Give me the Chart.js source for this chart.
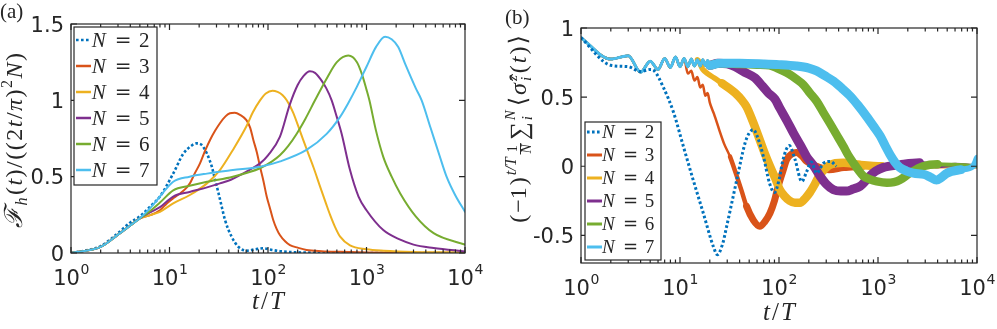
<!DOCTYPE html>
<html lang="en">
<head>
<meta charset="UTF-8" />
<title>Fisher information and staggered magnetization vs t/T</title>
<style>
  body { margin: 0; background: #fff; }
  #wrap { position: relative; width: 997px; height: 329px; overflow: hidden; }
  canvas { position: absolute; top: 0; }
  #panelA { left: 0; width: 498px; height: 329px; }
  #panelB { left: 498px; width: 499px; height: 329px; }
</style>
</head>
<body>
<div id="wrap">
  <canvas id="panelA" width="498" height="329"></canvas>
  <canvas id="panelB" width="499" height="329"></canvas>
</div>

<script src="https://cdn.jsdelivr.net/npm/chart.js"></script>
<script>
// ---- data ----
const sizesN = ['2', '3', '4', '5', '6', '7'];
const colors = ['#0072BD', '#D95319', '#EDB120', '#7E2F8E', '#77AC30', '#4DBEEE'];

// panel (a): F_h(t) / ((2t/pi)^2 N)
const tA2 = [1,1.5,2,3,4,5,6.5,8,10.9,13.8,16.5,18.9,21,23.9,26.9,29,31.5,34,36.6,42.7,50,60.6,75,89.6,110,132,200,400,1000,10000];
const yA2 = [0,0.02,0.045,0.13,0.2,0.24,0.31,0.37,0.52,0.65,0.70,0.718,0.71,0.653,0.565,0.48,0.39,0.30,0.216,0.107,0.041,0.015,0.025,0.031,0.02,0.012,0.004,0.002,0,0];
const tA3 = [1,2,3,4,5,6.5,8,9.4,11,12.8,14.5,16.1,18,20.4,23,25.8,29,32.5,37,41,46,52,60.4,66,71,77,83,90,97,105,113,122,132,150,167,200,246,350,540,1000,3000,10000];
const yA3 = [0,0.04,0.12,0.18,0.227,0.25,0.28,0.325,0.36,0.39,0.42,0.456,0.52,0.587,0.67,0.74,0.80,0.85,0.895,0.915,0.919,0.905,0.87,0.82,0.74,0.66,0.565,0.47,0.37,0.29,0.216,0.16,0.118,0.075,0.052,0.035,0.02,0.012,0.008,0.004,0.001,0];
const tA4 = [1,2,3,4,5,6.5,8,10.9,16.1,24,32.5,44,60.4,70,83,95,111,125,140,155,180,211,250,290,340,390,427,480,540,680,1000,1500,3000,10000];
const yA4 = [0,0.04,0.12,0.18,0.227,0.25,0.27,0.325,0.38,0.456,0.543,0.675,0.83,0.92,1.0,1.045,1.063,1.055,1.035,1.0,0.92,0.80,0.67,0.56,0.43,0.32,0.25,0.17,0.107,0.05,0.025,0.015,0.007,0.004];
const tA5 = [1,2,3,4,5,6.5,8,10.9,16,24,32.5,42,52,65,83,100,132,166,200,230,266,300,340,390,443,500,560,676,830,1000,1480,2200,3000,4800,10000];
const yA5 = [0,0.04,0.12,0.18,0.227,0.27,0.30,0.37,0.40,0.43,0.456,0.48,0.51,0.545,0.587,0.64,0.76,0.97,1.10,1.16,1.19,1.18,1.14,1.08,1.0,0.89,0.78,0.55,0.37,0.28,0.15,0.087,0.055,0.033,0.01];
const tA6 = [1,2,3,4,5,6.5,8,10.9,16,24,44,83,110,132,160,195,240,300,400,500,654,800,900,1000,1070,1250,1480,1800,2200,3160,4800,10000];
const yA6 = [0,0.04,0.12,0.18,0.227,0.28,0.33,0.41,0.44,0.467,0.50,0.555,0.60,0.64,0.70,0.78,0.88,1.0,1.15,1.25,1.293,1.25,1.17,1.07,1.0,0.80,0.63,0.50,0.39,0.24,0.13,0.055];
const tA7 = [1,2,3,4,5,6.5,8,10.9,16,24,44,83,133,246,394,537,650,800,1000,1250,1542,1800,2100,2500,3160,3630,4470,5500,6500,7940,10000];
const yA7 = [0,0.04,0.12,0.18,0.227,0.30,0.37,0.467,0.50,0.52,0.543,0.565,0.60,0.675,0.78,0.89,0.98,1.09,1.22,1.35,1.417,1.40,1.35,1.23,1.08,1.0,0.82,0.64,0.50,0.38,0.27];

// panel (b): staggered magnetization, shared zigzag at early integer times
const tZig = [1,2,3,4,5,6,7,8,9,10,11,12,13,14,15,16,17,18,19,20];
const yZig = [0.93,0.775,0.80,0.68,0.76,0.70,0.78,0.715,0.79,0.72,0.78,0.72,0.775,0.725,0.77,0.725,0.77,0.73,0.765,0.73];
const tB2 = [1,2,3,4,5,5.5,6.8,8.6,10.8,13.6,17.2,21.7,23.8,27,29.6,33,37.5,45.5,50,55,60,69.6,80,90,100,110,127,145,170,190,212,240,280,330,380];
const yB2 = [0.93,0.73,0.72,0.685,0.70,0.69,0.57,0.39,0.145,-0.10,-0.34,-0.58,-0.64,-0.56,-0.435,-0.28,-0.097,0.17,0.24,0.265,0.22,0.07,-0.12,-0.19,-0.10,0.05,0.15,0.05,-0.11,-0.04,0.03,-0.05,0.02,0.035,0.0];
const tB3 = [12,13,14,15,16,17,18,19,20,22,25,28,32,37,42,47,55,64,72,81,90,98,110,120,135,150,170,190,240,320,450,700,1000,2000,5000,10000];
const yB3 = [0.67,0.69,0.62,0.645,0.57,0.59,0.51,0.53,0.46,0.38,0.26,0.16,0.07,-0.06,-0.18,-0.29,-0.39,-0.435,-0.40,-0.34,-0.25,-0.145,-0.03,0.05,0.09,0.10,0.075,0.035,0.0,-0.025,-0.01,0.0,0.01,0.0,0.0,0.0];
const tB4 = [17,19,22,26.5,32,36,42,47,54,64,72,81,92,102,115,128,145,163,185,205,230,259,290,327,447,660,1100,2000,4000,10000];
const yB4 = [0.70,0.67,0.64,0.60,0.56,0.53,0.48,0.43,0.33,0.19,0.09,0.0,-0.09,-0.17,-0.22,-0.25,-0.265,-0.265,-0.23,-0.19,-0.13,-0.06,-0.02,0.01,0.025,0.01,0.0,0.01,0.0,0.0];
const tB5 = [24,30,36,45,57,68,78,91,102,120,140,165,190,225,259,300,355,420,480,560,660,740,830,950,1120,1660,2630,4000,6000,10000];
const yB5 = [0.745,0.74,0.72,0.68,0.64,0.58,0.53,0.485,0.42,0.33,0.24,0.15,0.07,0.0,-0.07,-0.13,-0.17,-0.18,-0.18,-0.165,-0.145,-0.11,-0.07,-0.035,-0.01,0.01,0.025,0.0,0.01,0.0];
const tB6 = [25,40,60,80,95,110,128,150,176,205,240,280,327,380,446,500,563,630,710,830,975,1230,1450,1660,2100,2850,4000,6000,10000];
const yB6 = [0.745,0.74,0.735,0.73,0.71,0.69,0.665,0.63,0.59,0.53,0.47,0.39,0.31,0.23,0.145,0.08,0.025,-0.025,-0.07,-0.095,-0.11,-0.12,-0.115,-0.10,-0.05,0.0,0.015,0.01,0.0];
const tB7 = [25,40,70,100,150,200,240,290,355,430,520,630,767,900,1050,1180,1320,1480,1660,1950,2280,2940,3400,3900,4400,4970,6900,9100,10000];
const yB7 = [0.745,0.745,0.74,0.735,0.725,0.71,0.69,0.655,0.615,0.565,0.51,0.44,0.36,0.29,0.22,0.15,0.085,0.03,-0.01,-0.035,-0.05,-0.06,-0.08,-0.10,-0.08,-0.05,-0.025,0.0,0.06];

// ---- styling helpers ----
const AXIS = '#262626';
const SERIF = '"Liberation Serif", "DejaVu Serif", serif';
const TICK_FONT = '21px "DejaVu Sans"';
const SUP_FONT = '14px "DejaVu Sans"';
const up = n => n + 'px ' + SERIF;
const it = n => 'italic ' + n + 'px ' + SERIF;

function pts(t, y) { return t.map((v, i) => ({ x: v, y: y[i] })); }
function withZig(n, t, y) { return [tZig.slice(0, n).concat(t), yZig.slice(0, n).concat(y)]; }

function line(t, y, i, extra) {
  return Object.assign({
    data: pts(t, y),
    borderColor: colors[i],
    borderWidth: 2,
    pointRadius: 0,
    fill: false,
    order: 6 - i,
    cubicInterpolationMode: 'monotone',
    borderJoinStyle: 'round',
    borderCapStyle: 'round'
  }, extra || {});
}

// line width by time window: the fast oscillation smears into a band
// steps = [[tUpTo, width], ...], last width used afterwards
function band(steps, last) {
  return {
    borderWidth: c => {
      const t = c.p0.parsed.x;
      for (const [lim, w] of steps) if (t < lim) return w;
      return last;
    }
  };
}

// small rich-text layout for math-like labels
function itemWidth(ctx, o) {
  ctx.font = o.f;
  if (o.frac) { const w1 = ctx.measureText(o.frac[0]).width; ctx.font = o.f2 || o.f; return Math.max(w1, ctx.measureText(o.frac[1]).width) + 2; }
  if (o.scr) return Math.max(ctx.measureText(o.scr[0]).width, ctx.measureText(o.scr[1]).width);
  return ctx.measureText(o.s).width;
}

function drawItems(ctx, items, cx, y, len, maxGap) {
  const ws = items.map(o => itemWidth(ctx, o));
  const nat = ws.reduce((a, b) => a + b, 0);
  let gap = len ? (len - nat) / (items.length - 1) : 0;
  gap = Math.max(0, Math.min(gap, maxGap || 3));
  let x = cx - (nat + gap * (items.length - 1)) / 2;
  ctx.textAlign = 'left';
  items.forEach((o, i) => {
    ctx.font = o.f;
    if (o.frac) {
      const w = ws[i];
      ctx.textAlign = 'center';
      ctx.fillText(o.frac[0], x + w / 2, y + o.nd);
      ctx.font = o.f2 || o.f;
      ctx.fillText(o.frac[1], x + w / 2, y + o.dd);
      ctx.textAlign = 'left';
      ctx.fillRect(x, y + o.bd, w, 1);
    } else if (o.scr) {
      ctx.fillText(o.scr[0], x, y + o.su);
      ctx.fillText(o.scr[1], x, y + o.sb);
    } else {
      ctx.fillText(o.s, x, y + (o.dy || 0));
    }
    x += ws[i] + gap + (o.after || 0);
  });
}

function drawLegend(ctx, L) {
  ctx.fillStyle = '#fff';
  ctx.fillRect(L.x, L.y, L.w, L.h);
  ctx.strokeStyle = AXIS;
  ctx.lineWidth = 1.2;
  ctx.setLineDash([]);
  ctx.strokeRect(L.x, L.y, L.w, L.h);
  sizesN.forEach((n, i) => {
    const yy = L.y + L.first + i * L.step;
    ctx.save();
    ctx.strokeStyle = colors[i];
    ctx.lineWidth = L.lw;
    ctx.lineCap = 'butt';
    ctx.setLineDash(i === 0 ? [2.6, 2.4] : []);
    ctx.beginPath();
    ctx.moveTo(L.x + 2, yy);
    ctx.lineTo(L.x + 17, yy);
    ctx.stroke();
    ctx.restore();
    ctx.fillStyle = AXIS;
    ctx.textAlign = 'left';
    const tx = L.x + L.tx, base = yy + L.size * 0.33;
    ctx.font = it(L.size);
    ctx.fillText('N', tx, base);
    ctx.font = (L.size - 1) + 'px "DejaVu Serif"';
    ctx.fillText('=', tx + L.size * 1.1, base);
    ctx.font = up(L.size);
    ctx.fillText(n, tx + L.size * 2.25, base);
  });
}

function makeFrame(cfg) {
  return {
    id: 'frame',
    afterDatasetsDraw(chart) {
      const ctx = chart.ctx, a = chart.chartArea, xs = chart.scales.x, ys = chart.scales.y;
      ctx.save();
      ctx.strokeStyle = AXIS;
      ctx.lineWidth = 1.2;
      ctx.beginPath();
      for (let k = 0; k < 4; k++) {
        for (let m = 2; m < 10; m++) {
          const px = xs.getPixelForValue(m * Math.pow(10, k));
          ctx.moveTo(px, a.bottom); ctx.lineTo(px, a.bottom - 3.5);
          ctx.moveTo(px, a.top); ctx.lineTo(px, a.top + 3.5);
        }
      }
      for (let k = 0; k <= 4; k++) {
        const px = xs.getPixelForValue(Math.pow(10, k));
        ctx.moveTo(px, a.bottom); ctx.lineTo(px, a.bottom - 6);
        ctx.moveTo(px, a.top); ctx.lineTo(px, a.top + 6);
      }
      cfg.yTicks.forEach(v => {
        const py = ys.getPixelForValue(v);
        ctx.moveTo(a.left, py); ctx.lineTo(a.left + 6, py);
        ctx.moveTo(a.right, py); ctx.lineTo(a.right - 6, py);
      });
      ctx.stroke();
      ctx.strokeRect(a.left, a.top, a.right - a.left, a.bottom - a.top);

      ctx.fillStyle = AXIS;
      ctx.textBaseline = 'alphabetic';
      ctx.font = TICK_FONT;
      ctx.textAlign = 'right';
      cfg.yTicks.forEach((v, i) => ctx.fillText(cfg.yTickText[i], a.left - 7, ys.getPixelForValue(v) + 7.5));

      ctx.textAlign = 'left';
      for (let k = 0; k <= 4; k++) {
        const px = xs.getPixelForValue(Math.pow(10, k));
        ctx.font = TICK_FONT; const w1 = ctx.measureText('10').width;
        ctx.font = SUP_FONT; const w2 = ctx.measureText(String(k)).width;
        const x0 = px - (w1 + w2) / 2;
        ctx.font = TICK_FONT; ctx.fillText('10', x0, a.bottom + 32);
        ctx.font = SUP_FONT; ctx.fillText(String(k), x0 + w1 + 0.5, a.bottom + 21);
      }

      // x title t/T
      drawItems(ctx, [{ s: 't', f: it(25) }, { s: '/', f: up(25) }, { s: 'T', f: it(25) }],
        (a.left + a.right) / 2, cfg.xTitleY, 34, 2);

      // rotated y title
      ctx.save();
      ctx.translate(cfg.yTitle.x, cfg.yTitle.y);
      ctx.rotate(-Math.PI / 2);
      drawItems(ctx, cfg.yTitle.items, 0, cfg.yTitle.base, cfg.yTitle.len, cfg.yTitle.maxGap);
      ctx.restore();

      // panel letter
      ctx.font = up(21);
      ctx.textAlign = 'left';
      ctx.fillText(cfg.panel, cfg.panelX, cfg.panelY);

      drawLegend(ctx, cfg.legend);
      ctx.restore();
    }
  };
}

const yTitleA = [
  { s: 'ℱ', f: it(25) }, { s: 'h', f: it(16), dy: 5, after: 1 },
  { s: '(', f: up(24) }, { s: 't', f: it(24) }, { s: ')', f: up(24) }, { s: '/', f: up(24) },
  { s: '(', f: up(24) }, { s: '(', f: up(24) }, { s: '2', f: up(24) }, { s: 't', f: it(24) },
  { s: '/', f: up(24) }, { s: 'π', f: it(24) }, { s: ')', f: up(24) },
  { s: '2', f: up(16), dy: -10 }, { s: 'N', f: it(24) }, { s: ')', f: up(24) }
];

const yTitleB = [
  { s: '(', f: up(24) }, { s: '−1', f: up(24) }, { s: ')', f: up(24) },
  { s: 't/T', f: it(16), dy: -10, after: 1 },
  { frac: ['1', 'N'], f: up(14), f2: it(14), nd: -9, dd: 5, bd: -6, after: 1 },
  { s: '∑', f: up(25), dy: 1 },
  { scr: ['N', 'i'], f: it(15), su: -11, sb: 6, after: 2 },
  { s: '⟨', f: up(24) }, { s: 'σ̂', f: it(24) },
  { scr: ['z', 'i'], f: it(15), su: -9, sb: 5 },
  { s: '(', f: up(24) }, { s: 't', f: it(24) }, { s: ')', f: up(24) }, { s: '⟩', f: up(24) }
];

function baseOptions(padding, ymin, ymax) {
  return {
    responsive: false,
    animation: false,
    devicePixelRatio: 1,
    layout: { padding: padding },
    scales: {
      x: { type: 'logarithmic', min: 1, max: 10000, display: false },
      y: { type: 'linear', min: ymin, max: ymax, display: false }
    },
    plugins: { legend: { display: false }, tooltip: { enabled: false } }
  };
}

// ---- panel (a) ----
new Chart(document.getElementById('panelA'), {
  type: 'line',
  data: {
    datasets: [
      line(tA2, yA2, 0, { borderDash: [2.6, 2.2], borderCapStyle: 'butt', borderWidth: 2.6 }),
      line(tA3, yA3, 1),
      line(tA4, yA4, 2),
      line(tA5, yA5, 3),
      line(tA6, yA6, 4),
      line(tA7, yA7, 5)
    ]
  },
  options: baseOptions({ left: 71, top: 24, right: 33, bottom: 76 }, 0, 1.5),
  plugins: [makeFrame({
    yTicks: [0, 0.5, 1, 1.5], yTickText: ['0', '0.5', '1', '1.5'],
    xTitleY: 309,
    yTitle: { x: 15, y: 141, base: 7, len: 188, items: yTitleA, maxGap: 1.5 },
    panel: '(a)', panelX: 0, panelY: 18,
    legend: { x: 74, y: 27, w: 83, h: 158, first: 13, step: 26, lw: 2.5, tx: 17.7, size: 21 }
  })]
});

// ---- panel (b) ----
const [tB3z, yB3z] = withZig(11, tB3, yB3);
const [tB4z, yB4z] = withZig(15, tB4, yB4);
const [tB5z, yB5z] = withZig(20, tB5, yB5);
const [tB6z, yB6z] = withZig(20, tB6, yB6);
const [tB7z, yB7z] = withZig(20, tB7, yB7);

new Chart(document.getElementById('panelB'), {
  type: 'line',
  data: {
    datasets: [
      // the dotted N = 2 curve stays visible over the bands
      line(tB2, yB2, 0, { borderDash: [2.6, 2.4], borderCapStyle: 'butt', borderWidth: 3, order: 0 }),
      line(tB3z, yB3z, 1, { borderWidth: 2.5, segment: band([[30, 2.5], [45, 4.5], [600, 7]], 4) }),
      line(tB4z, yB4z, 2, { borderWidth: 2.5, segment: band([[15, 2.5], [24, 5.5], [800, 8.5]], 4) }),
      line(tB5z, yB5z, 3, { borderWidth: 2.5, segment: band([[20, 2.5], [2000, 9]], 4) }),
      line(tB6z, yB6z, 4, { borderWidth: 2.5, segment: band([[20, 2.5], [3000, 8.5]], 4) }),
      line(tB7z, yB7z, 5, { borderWidth: 3, segment: band([[20, 3], [5000, 9]], 6) })
    ]
  },
  options: baseOptions({ left: 83, top: 28, right: 20, bottom: 66 }, -0.7, 1),
  plugins: [makeFrame({
    yTicks: [-0.5, 0, 0.5, 1], yTickText: ['-0.5', '0', '0.5', '1'],
    xTitleY: 320,
    yTitle: { x: 21, y: 131, base: 7, len: 220, items: yTitleB, maxGap: 2 },
    panel: '(b)', panelX: 7, panelY: 24,
    legend: { x: 87, y: 122, w: 76, h: 138, first: 10, step: 23, lw: 3, tx: 17, size: 19 }
  })]
});
</script>
</body>
</html>
